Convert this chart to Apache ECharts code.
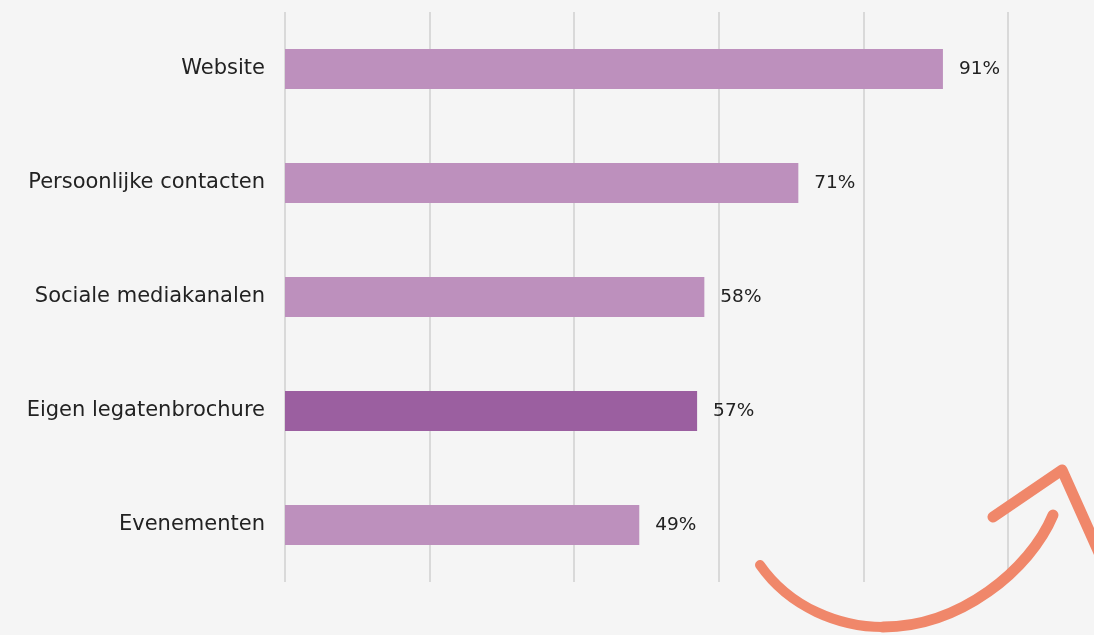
<!DOCTYPE html>
<html><head><meta charset="utf-8">
<script src="https://cdn.jsdelivr.net/npm/echarts@6/dist/echarts.min.js"></script>
<style>html,body{margin:0;padding:0;background:#f5f5f5}#c{width:1094px;height:635px}</style>
</head><body><div id="c"></div>
<script>
const categories = ['Website', 'Persoonlijke contacten', 'Sociale mediakanalen', 'Eigen legatenbrochure', 'Evenementen'];
const values = [91, 71, 58, 57, 49];
const highlightIndex = 3;
const baseColor = '#bd90bd';
const highlightColor = '#9b5fa0';
const fontFam = '"DejaVu Sans", sans-serif';
const arrowColor = '#f0876a';

const chart = echarts.init(document.getElementById('c'));
chart.setOption({
  backgroundColor: '#f5f5f5',
  animation: false,
  grid: { left: 285, right: 86, top: 12, bottom: 53, containLabel: false },
  xAxis: {
    type: 'value', min: 0, max: 100, interval: 20,
    axisLabel: { show: false }, axisLine: { show: false }, axisTick: { show: false },
    splitLine: { show: true, lineStyle: { color: '#d9d9d9', width: 2 } }
  },
  yAxis: {
    type: 'category', data: categories, inverse: true,
    axisLine: { show: false }, axisTick: { show: false },
    axisLabel: { margin: 20, color: '#222', fontSize: 21, fontFamily: fontFam }
  },
  series: [{
    type: 'bar',
    data: values.map((v, i) => ({ value: v, itemStyle: { color: i === highlightIndex ? highlightColor : baseColor } })),
    barWidth: '35%',
    label: { show: true, position: 'right', distance: 16, formatter: '{c}%', color: '#222', fontSize: 18.5, fontFamily: fontFam }
  }],
  graphic: [{
    type: 'bezierCurve', z: 100,
    shape: { x1: 760, y1: 565, cpx1: 790, cpy1: 608, cpx2: 840, cpy2: 627, x2: 883, y2: 627 },
    style: { fill: null, stroke: arrowColor, lineWidth: 10, lineCap: 'round' }
  }, {
    type: 'bezierCurve', z: 100,
    shape: { x1: 883, y1: 627, cpx1: 960, cpy1: 627, cpx2: 1030, cpy2: 570, x2: 1053, y2: 515 },
    style: { fill: null, stroke: arrowColor, lineWidth: 11, lineCap: 'round' }
  }, {
    type: 'polyline', z: 100,
    shape: { points: [[993, 517], [1062, 470], [1100, 555]] },
    style: { fill: null, stroke: arrowColor, lineWidth: 11, lineCap: 'round', lineJoin: 'round' }
  }]
});
</script></body></html>
